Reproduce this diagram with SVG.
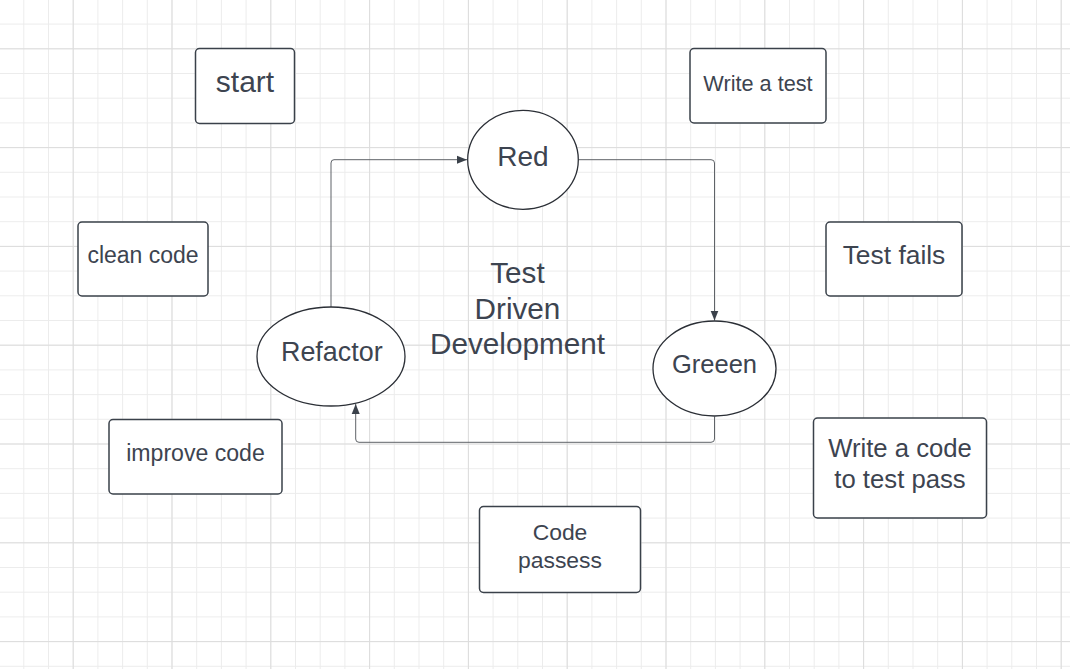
<svg xmlns="http://www.w3.org/2000/svg" width="1070" height="669" viewBox="0 0 1070 669">
<defs>
<pattern id="minor" patternUnits="userSpaceOnUse" x="72.7" y="48.3" width="24.7" height="24.7">
<path d="M0 0.5H24.7M0.5 0V24.7" fill="none" stroke="#ececec" stroke-width="1"/>
</pattern>
<pattern id="major" patternUnits="userSpaceOnUse" x="72.7" y="48.3" width="98.8" height="98.8">
<path d="M0 0.5H98.8M0.5 0V98.8" fill="none" stroke="#dcdcdc" stroke-width="1"/>
</pattern>
<marker id="arr" viewBox="0 0 10 10" refX="10" refY="5" markerWidth="10" markerHeight="10" markerUnits="userSpaceOnUse" orient="auto">
<path d="M0 1L10 5L0 9Z" fill="#3a414a"/>
</marker>
<style>
.box{fill:#fff;stroke:#3a414a;stroke-width:1.5}
.ell{fill:#fff;stroke:#2b2f36;stroke-width:1.3}
.t{font-family:"Liberation Sans",Arial,sans-serif;fill:#3d4450;text-anchor:middle}
.con{fill:none;stroke:#5f6368;stroke-width:1}
</style>
</defs>
<rect width="1070" height="669" fill="#fff"/>
<rect width="1070" height="669" fill="url(#minor)"/>
<rect width="1070" height="669" fill="url(#major)"/>

<g id="connectors">
<path class="con" d="M331 307V163Q331 159.7 334 159.7H467" marker-end="url(#arr)"/>
<path class="con" d="M578.5 159.7H711Q714.5 159.7 714.5 163V320.5" marker-end="url(#arr)"/>
<path class="con" d="M714.5 416.5V439Q714.5 442.3 711 442.3H359Q355.7 442.3 355.7 439V404" marker-end="url(#arr)"/>
</g>

<g id="start">
<rect class="box" x="195.5" y="48.5" width="99" height="75" rx="4"/>
<text class="t" x="245" y="92" font-size="30">start</text>
</g>
<g id="write-test">
<rect class="box" x="690" y="48.5" width="136" height="74.5" rx="4"/>
<text class="t" x="758" y="90.7" font-size="21.7">Write a test</text>
</g>
<g id="clean-code">
<rect class="box" x="78" y="222" width="130" height="74" rx="4"/>
<text class="t" x="143" y="263.3" font-size="23">clean code</text>
</g>
<g id="test-fails">
<rect class="box" x="826" y="222" width="136" height="74" rx="4"/>
<text class="t" x="894" y="264" font-size="26.4">Test fails</text>
</g>
<g id="improve-code">
<rect class="box" x="109" y="419.5" width="173" height="74.5" rx="4"/>
<text class="t" x="195.5" y="461" font-size="23.1">improve code</text>
</g>
<g id="write-code">
<rect class="box" x="813.5" y="418" width="173" height="100" rx="4"/>
<text class="t" x="900" y="457.3" font-size="25.7">Write a code</text>
<text class="t" x="900" y="487.5" font-size="25.7">to test pass</text>
</g>
<g id="code-passess">
<rect class="box" x="479.5" y="506.5" width="161" height="86" rx="4"/>
<text class="t" x="560" y="540" font-size="22.9">Code</text>
<text class="t" x="560" y="567.7" font-size="22.9">passess</text>
</g>
<g id="title">
<text class="t" x="517.5" y="283.3" font-size="29.7">Test</text>
<text class="t" x="517.5" y="319.3" font-size="29.7">Driven</text>
<text class="t" x="517.5" y="354" font-size="29.7">Development</text>
</g>
<g id="red">
<ellipse class="ell" cx="523" cy="159.8" rx="55.3" ry="49.5"/>
<text class="t" x="523" y="166" font-size="28">Red</text>
</g>
<g id="refactor">
<ellipse class="ell" cx="331" cy="356.5" rx="74" ry="49.5"/>
<text class="t" x="331.8" y="360.5" font-size="26.9">Refactor</text>
</g>
<g id="green">
<ellipse class="ell" cx="714.5" cy="368.5" rx="61.5" ry="47.5"/>
<text class="t" x="714.5" y="372.5" font-size="25.5">Greeen</text>
</g>
</svg>
